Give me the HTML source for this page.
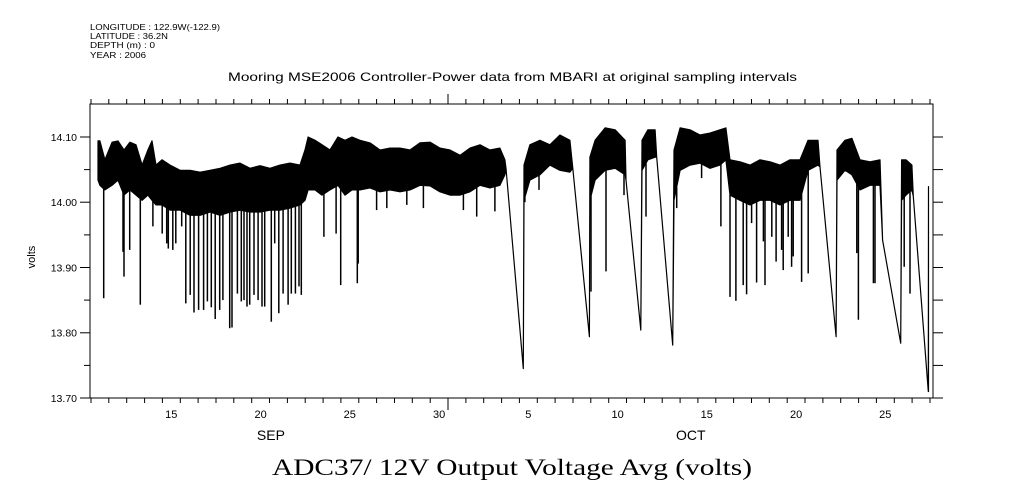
<!DOCTYPE html>
<html><head><meta charset="utf-8"><style>
html,body{margin:0;padding:0;background:#fff;}
svg{display:block;}
text{font-family:"Liberation Sans",sans-serif;fill:#000;}
</style></head><body>
<svg id="chart" width="1009" height="504" viewBox="0 0 1009 504" xmlns="http://www.w3.org/2000/svg">
<g font-size="8.5">
<text x="90" y="30" textLength="130" lengthAdjust="spacingAndGlyphs">LONGITUDE : 122.9W(-122.9)</text>
<text x="90" y="39" textLength="78" lengthAdjust="spacingAndGlyphs">LATITUDE : 36.2N</text>
<text x="90" y="48" textLength="65" lengthAdjust="spacingAndGlyphs">DEPTH (m) : 0</text>
<text x="90" y="58" textLength="56" lengthAdjust="spacingAndGlyphs">YEAR : 2006</text>
</g>
<text x="228" y="81" font-size="12" textLength="569" lengthAdjust="spacingAndGlyphs">Mooring MSE2006 Controller-Power data from MBARI at original sampling intervals</text>
<text transform="translate(35,257) rotate(-90)" font-size="11" text-anchor="middle">volts</text>
<text x="272" y="475" font-size="23" textLength="480" lengthAdjust="spacingAndGlyphs" style="font-family:'Liberation Serif',serif">ADC37/ 12V Output Voltage Avg (volts)</text>
<g id="axes"></g>
<g id="series"></g>
<rect x="90" y="104" width="843" height="294" fill="none" stroke="#000" stroke-width="1"/>
</svg>
<script>
// days since Sep 11 00:00 ; volts
const bandT=[0.39,0.50,0.78,1.18,1.51,1.85,2.18,2.52,2.86,3.19,3.42,3.64,3.98,4.43,4.99,5.55,6.11,6.67,7.23,7.79,8.35,8.91,9.47,10.03,10.59,11.15,11.71,11.99,12.16,12.55,12.94,13.39,13.84,14.23,14.62,15.07,15.63,16.19,16.75,17.31,17.87,18.43,18.99,19.55,20.11,20.67,21.23,21.79,22.35,22.91,23.19,23.25,24.22,24.26,24.59,25.15,25.71,26.27,26.83,26.99,27.92,27.95,28.24,28.80,29.36,29.92,29.97,30.80,30.87,31.20,31.60,31.69,32.59,32.66,33.00,33.56,34.12,34.68,35.24,35.57,35.80,36.36,36.92,37.48,38.04,38.60,39.16,39.72,40.17,40.73,40.84,41.74,41.79,42.24,42.63,43.08,43.64,44.20,44.35,45.36,45.41,45.66,45.99,46.07,46.91,46.92];
const bandHi=[14.094,14.094,14.065,14.092,14.094,14.080,14.092,14.088,14.057,14.080,14.094,14.057,14.065,14.057,14.049,14.049,14.046,14.049,14.052,14.057,14.060,14.052,14.056,14.052,14.057,14.060,14.057,14.080,14.100,14.095,14.088,14.080,14.100,14.095,14.100,14.095,14.091,14.080,14.083,14.083,14.080,14.091,14.092,14.083,14.080,14.072,14.083,14.088,14.080,14.083,14.065,14.052,13.745,14.057,14.088,14.095,14.088,14.103,14.095,14.052,13.794,14.069,14.095,14.114,14.111,14.095,14.034,13.804,14.095,14.111,14.111,14.069,13.781,14.080,14.114,14.111,14.103,14.106,14.111,14.114,14.065,14.062,14.057,14.065,14.062,14.057,14.065,14.065,14.095,14.095,14.054,13.794,14.080,14.095,14.098,14.065,14.062,14.065,13.942,13.784,14.065,14.065,14.057,14.009,13.710,14.024];
const bandLo=[14.034,14.026,14.019,14.026,14.034,14.011,14.019,14.011,14.003,14.011,14.003,13.996,13.996,13.988,13.988,13.980,13.980,13.985,13.980,13.985,13.988,13.985,13.985,13.988,13.988,13.991,13.996,14.003,14.019,14.019,14.011,14.019,14.026,14.011,14.019,14.019,14.022,14.016,14.019,14.016,14.019,14.026,14.025,14.016,14.011,14.011,14.016,14.026,14.022,14.026,14.042,14.052,13.745,14.003,14.034,14.042,14.057,14.049,14.046,14.052,13.794,14.003,14.034,14.049,14.052,14.042,14.034,13.804,14.049,14.065,14.069,14.069,13.781,14.003,14.049,14.057,14.060,14.052,14.057,14.065,14.011,14.003,13.996,14.003,14.003,13.996,14.003,14.003,14.049,14.057,14.054,13.794,14.034,14.049,14.042,14.019,14.026,14.026,13.942,13.784,14.003,14.011,14.019,14.009,13.710,13.710];
const dipT=[0.71,1.79,1.85,2.17,2.76,3.47,3.99,4.24,4.33,4.58,4.75,5.08,5.31,5.56,5.77,6.03,6.31,6.52,6.74,6.96,7.21,7.39,7.77,7.90,8.20,8.42,8.57,8.74,8.89,9.13,9.36,9.58,9.73,10.10,10.29,10.52,10.76,11.04,11.22,11.45,11.65,11.78,13.05,13.73,13.99,14.92,14.97,16.0,16.57,17.69,18.62,20.86,21.61,22.63,24.31,25.10,28.01,28.85,29.86,31.09,32.81,34.21,35.29,35.80,36.13,36.54,36.73,37.01,37.29,37.67,37.76,38.14,38.38,38.69,38.78,39.06,39.25,39.34,39.81,40.18,42.90,42.99,43.83,43.92,45.56,45.88];
const dipV=[13.853,13.924,13.886,13.927,13.843,13.963,13.952,13.937,13.929,13.927,13.937,13.963,13.845,13.858,13.831,13.835,13.835,13.848,13.839,13.821,13.835,13.850,13.807,13.808,13.860,13.848,13.850,13.840,13.843,13.858,13.850,13.840,13.840,13.817,13.937,13.830,13.860,13.843,13.860,13.860,13.871,13.858,13.947,13.952,13.873,13.876,13.906,13.988,13.991,13.996,13.991,13.988,13.978,13.986,14.000,14.019,13.863,13.894,14.011,13.978,13.991,14.037,13.963,13.855,13.849,13.873,13.859,13.968,13.877,13.940,13.873,13.947,13.909,13.927,13.896,13.947,13.901,13.917,13.878,13.891,13.922,13.820,13.876,13.876,13.901,13.860];
const yTicks=[13.70,13.80,13.90,14.00,14.10];
const yTickLabels=["13.70","13.80","13.90","14.00","14.10"];
const dayLabels=[15,20,25,30,5,10,15,20,25];
const dayLabelOffsets=[4,9,14,19,24,29,34,39,44];
const monthLabels=["SEP","OCT"];
const monthLabelOffsets=[10.08,33.6];

const NS="http://www.w3.org/2000/svg";
const X0=91,PXD=17.85,Y0=137,PXV=652.5;
const xs=t=>X0+t*PXD;
const ys=v=>Y0+(14.10-v)*PXV;
function mk(tag,attrs,parent){const e=document.createElementNS(NS,tag);for(const k in attrs)e.setAttribute(k,attrs[k]);parent.appendChild(e);return e;}
const axes=document.getElementById('axes'),series=document.getElementById('series');
for(let i=0;i<=8;i++){const v=13.70+i*0.05,y=ys(v).toFixed(1);const major=i%2===0;
 const l=mk('line',{x1:major?80:84,x2:90,y1:y,y2:y,stroke:'#000'},axes);
 
 
 const r=mk('line',{x1:933,x2:943,y1:y,y2:y,stroke:'#000'},axes);
 
 }
yTicks.forEach((v,i)=>{const t=mk('text',{x:77,y:(ys(v)+4).toFixed(1),'font-size':'10.5','text-anchor':'end'},axes);t.textContent=yTickLabels[i];
 
 });
for(let d=0;d<=47;d++){const x=xs(d).toFixed(1);if(x>933)break;const big=d===20;
 const b=mk('line',{x1:x,x2:x,y1:398,y2:big?410:403,stroke:'#000'},axes);
 
 
 const tp=mk('line',{x1:x,x2:x,y1:big?94:99,y2:104,stroke:'#000'},axes);
 
 }
dayLabels.forEach((d,i)=>{const t=mk('text',{x:xs(dayLabelOffsets[i]+0.5).toFixed(1),y:418,'font-size':'11','text-anchor':'middle'},axes);t.textContent=d;
 
 });
monthLabels.forEach((m,i)=>{const t=mk('text',{x:xs(monthLabelOffsets[i]).toFixed(1),y:440,'font-size':'14','text-anchor':'middle'},axes);t.textContent=m;
 
 });
let pts=[];for(let i=0;i<bandT.length;i++)pts.push(xs(bandT[i]).toFixed(1)+','+ys(bandHi[i]).toFixed(1));
for(let i=bandT.length-1;i>=0;i--)pts.push(xs(bandT[i]).toFixed(1)+','+ys(bandLo[i]).toFixed(1));
const band=mk('polygon',{points:pts.join(' '),fill:'#000',stroke:'#000','stroke-width':'1.2','stroke-linejoin':'round'},series);


function loAt(t){for(let i=1;i<bandT.length;i++){if(bandT[i]>=t){const f=(t-bandT[i-1])/(bandT[i]-bandT[i-1]||1);return bandLo[i-1]+f*(bandLo[i]-bandLo[i-1]);}}return bandLo[bandLo.length-1];}
dipT.forEach((t,i)=>{const x=xs(t).toFixed(1);
 const l=mk('line',{x1:x,x2:x,y1:ys(loAt(t)).toFixed(1),y2:ys(dipV[i]).toFixed(1),stroke:'#000','stroke-width':'1.5'},series);
 
 });
</script>
</body></html>
